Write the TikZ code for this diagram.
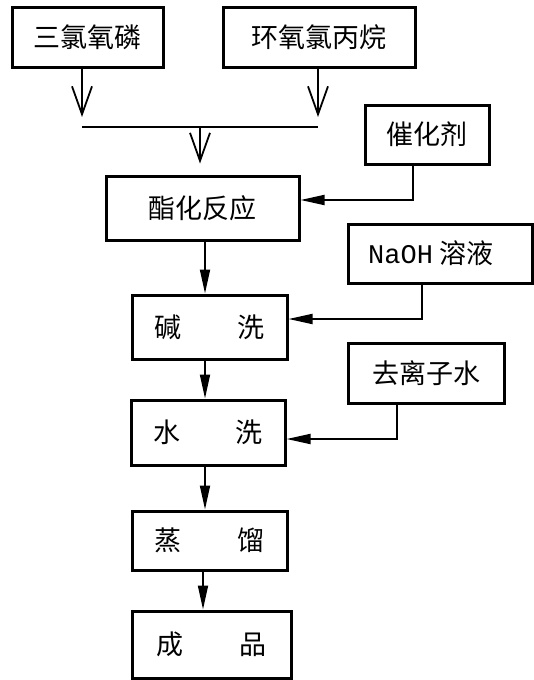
\documentclass[tikz,border=0pt]{standalone}
\usepackage{fontspec}
\usepackage{tikz}
\usetikzlibrary{arrows.meta}
\newfontfamily\cjk{Noto Sans CJK SC}
\newfontfamily\latinmono{Liberation Mono}
\tikzstyle{box}=[draw,line width=3pt,inner sep=0pt,font=\cjk\fontsize{27}{31}\selectfont]
\tikzstyle{flow} = [draw,line width=1.8pt,-{Triangle[length=24pt,width=10pt]}]
\tikzstyle{merge} = [draw,line width=1.8pt,-{Straight Barb[length=28pt,width=20pt]}]

\begin{document}
\begin{tikzpicture}[x=1pt,y=-1pt]
      \useasboundingbox (0,0) rectangle (534,680);
      % raw materials
      \node[box,minimum width=151pt,minimum height=60pt] (pocl) at (87.5,37) {三氯氧磷};
      \node[box,minimum width=192pt,minimum height=60pt] (ech) at (319,37) {环氧氯丙烷};
      \node[box,minimum width=124pt,minimum height=59pt] (cat) at (427,134.5) {催化剂};
      \node[box,minimum width=184pt,minimum height=59pt] (naoh) at (440,253.5) {};
      \node[font=\cjk\fontsize{27}{31}\selectfont,anchor=west,inner sep=0pt] (naohtxt) at (368,253.5) {{\latinmono NaOH}\hspace{6pt}溶液};
      \node[box,minimum width=156pt,minimum height=60pt] (dw) at (426,373) {去离子水};
      % process steps
      \node[box,minimum width=193pt,minimum height=64pt] (ester) at (202.5,208) {酯化反应};
      \node[box,minimum width=155pt,minimum height=64pt] (alk) at (209.5,327) {碱\hspace{56pt}洗};
      \node[box,minimum width=154pt,minimum height=65pt] (wash) at (208,432.5) {水\hspace{56pt}洗};
      \node[box,minimum width=155pt,minimum height=59pt] (dist) at (209.5,540.5) {蒸\hspace{56pt}馏};
      \node[box,minimum width=159pt,minimum height=67pt] (prod) at (211.5,644.5) {成\hspace{56pt}品};
      \coordinate (j1) at (82,127);
      \coordinate (j2) at (318,127);
      \coordinate (j0) at (200,127);
      \coordinate (c1) at (413,200);
      \coordinate (c2) at (422,319);
      \coordinate (c3) at (397,439);
      \draw[merge,shorten >=10pt] (pocl.south -| j1) -- (j1);
      \draw[merge,shorten >=10pt] (ech.south -| j2) -- (j2);
      \draw[line width=1.8pt] (j1) -- (j2);
      \draw[merge,shorten >=11pt] (j0) -- (ester.north -| j0);
      \draw[flow] (cat.south -| c1) -- (c1) -- (ester.east |- c1);
      \draw[flow] (naoh.south -| c2) -- (c2) -- (alk.east |- c2);
      \draw[flow] (dw.south -| c3) -- (c3) -- (wash.east |- c3);
      \draw[flow] (ester.south -| 205,0) -- (alk.north -| 205,0);
      \draw[flow] (alk.south -| 205,0) -- (wash.north -| 205,0);
      \draw[flow] (wash.south -| 205,0) -- (dist.north -| 205,0);
      \draw[flow] (dist.south -| 203,0) -- (prod.north -| 203,0);
    \end{tikzpicture}
\end{document}
